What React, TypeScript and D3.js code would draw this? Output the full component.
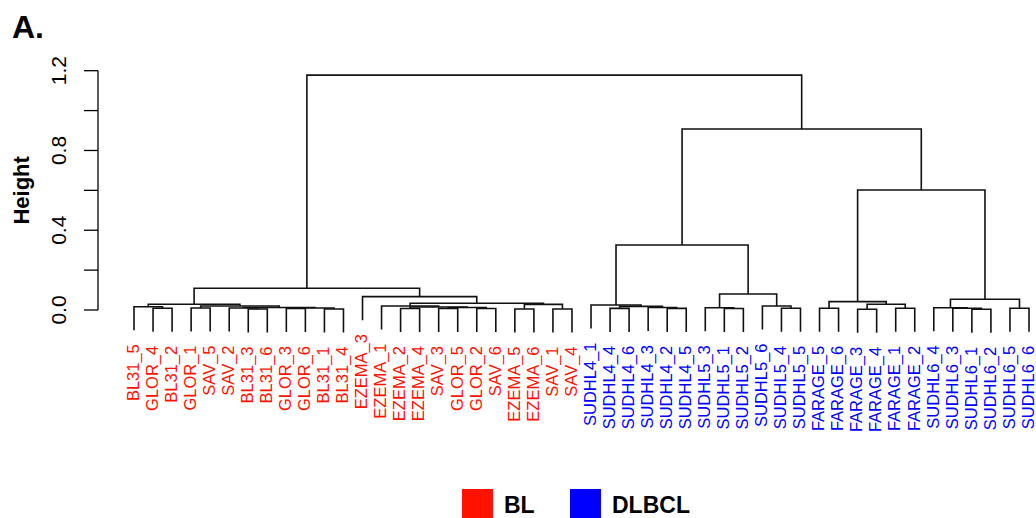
import React from 'react';
import * as d3 from 'd3';

// leaf order as it comes out of hclust
const leafNames = [
  'BL31_5', 'GLOR_4', 'BL31_2', 'GLOR_1', 'SAV_5', 'SAV_2', 'BL31_3', 'BL31_6', 'GLOR_3', 'GLOR_6', 'BL31_1', 'BL31_4',
  'EZEMA_3', 'EZEMA_1', 'EZEMA_2', 'EZEMA_4', 'SAV_3', 'GLOR_5', 'GLOR_2', 'SAV_6', 'EZEMA_5', 'EZEMA_6', 'SAV_1', 'SAV_4',
  'SUDHL4_1', 'SUDHL4_4', 'SUDHL4_6', 'SUDHL4_3', 'SUDHL4_2', 'SUDHL4_5', 'SUDHL5_3', 'SUDHL5_1', 'SUDHL5_2', 'SUDHL5_6',
  'SUDHL5_4', 'SUDHL5_5', 'FARAGE_5', 'FARAGE_6', 'FARAGE_3', 'FARAGE_4', 'FARAGE_1', 'FARAGE_2', 'SUDHL6_4', 'SUDHL6_3',
  'SUDHL6_1', 'SUDHL6_2', 'SUDHL6_5', 'SUDHL6_6',
];

// R style merge matrix: negative = leaf (1-based), positive = earlier step (1-based), then height
const merges: [number, number, number][] = [
  [-2, -3, 0.0085], [-1, 1, 0.0165], [-4, -5, 0.010], [-7, -8, 0.005], [-6, 4, 0.010],
  [-9, -10, 0.0075], [-11, -12, 0.005], [6, 7, 0.010], [5, 8, 0.0125], [3, 9, 0.020],
  [2, 10, 0.029], [-15, -16, 0.0075], [-17, -18, 0.0075], [-19, -20, 0.0075], [13, 14, 0.0125],
  [12, 15, 0.015], [-14, 16, 0.020], [-21, -22, 0.005], [-23, -24, 0.005], [18, 19, 0.028],
  [17, 20, 0.034], [-13, 21, 0.067], [11, 22, 0.109],
  [-26, -27, 0.008], [-29, -30, 0.008], [-28, 25, 0.0125], [24, 26, 0.018], [-25, 27, 0.025],
  [-32, -33, 0.0075], [-31, 29, 0.0115], [-35, -36, 0.0085], [-34, 31, 0.020], [30, 32, 0.080],
  [28, 33, 0.326],
  [-37, -38, 0.0085], [-39, -40, 0.0035], [-41, -42, 0.0085], [36, 37, 0.029], [35, 38, 0.042],
  [-45, -46, 0.0035], [-44, 40, 0.0085], [-43, 41, 0.0115], [-47, -48, 0.0085], [42, 43, 0.054],
  [39, 44, 0.602], [34, 45, 0.908], [23, 46, 1.178],
];

const blLines = ['BL31', 'GLOR', 'SAV', 'EZEMA'];
const yTicks = [0, 0.2, 0.4, 0.6, 0.8, 1.0, 1.2];
const yTickLabels = [0, 0.4, 0.8, 1.2];
const legendItems = [
  { label: 'BL', color: '#ff1200' },
  { label: 'DLBCL', color: '#0000ff' },
];

const FONT = 'Liberation Sans, Arial, sans-serif';

export default function App() {
  const x = d3.scalePoint<string>().domain(leafNames).range([134, 1029]);
  const y = d3.scaleLinear().domain([0, 1.2]).range([310, 70.7]);
  const maxH = d3.max(merges, m => m[2]) as number;
  const hang = 0.1 * maxH;

  // x position of every merge step (midpoint of its two children)
  const stepX: number[] = [];
  const childX = (c: number) => (c < 0 ? (x(leafNames[-c - 1]) as number) : stepX[c - 1]);
  merges.forEach(([a, b]) => stepX.push((childX(a) + childX(b)) / 2));

  const leafBottom: Record<string, number> = {};
  const lines: string[] = [];
  merges.forEach(([a, b, h]) => {
    const yh = y(h);
    const xa = childX(a), xb = childX(b);
    const bottom = (c: number) => {
      if (c < 0) {
        const yb = y(h - hang);
        leafBottom[leafNames[-c - 1]] = yb;
        return yb;
      }
      return y(merges[c - 1][2]);
    };
    lines.push(`M${xa},${bottom(a)}V${yh}H${xb}V${bottom(b)}`);
  });

  const colorOf = (name: string) =>
    blLines.includes(name.split('_')[0]) ? legendItems[0].color : legendItems[1].color;

  return (
    <svg width={1036} height={518} style={{ position: 'absolute', left: 0, top: 0, background: '#fff' }}>
      <text x={12} y={38} fontFamily={FONT} fontWeight="bold" fontSize={32}>A.</text>

      {/* y axis */}
      <g stroke="#000" strokeWidth={1.3}>
        <line x1={98} x2={98} y1={y(0)} y2={y(1.2)} />
        {yTicks.map(t => (
          <line key={t} x1={84} x2={98} y1={y(t)} y2={y(t)} />
        ))}
      </g>
      {yTickLabels.map(t => (
        <text key={t} transform={`translate(66,${y(t)}) rotate(-90)`} textAnchor="middle"
          fontFamily={FONT} fontSize={21}>{t.toFixed(1)}</text>
      ))}
      <text transform={`translate(29,${(y(0) + y(1.2)) / 2}) rotate(-90)`} textAnchor="middle"
        fontFamily={FONT} fontWeight="bold" fontSize={22}>Height</text>

      {/* dendrogram */}
      <g fill="none" stroke="#111" strokeWidth={1.6}>
        {lines.map((d, i) => <path key={i} d={d} />)}
      </g>

      {/* leaf labels */}
      {leafNames.map(name => (
        <text key={name} transform={`translate(${x(name) - 1},${leafBottom[name] + 14}) rotate(-90)`}
          textAnchor="end" dy="0.35em" fontFamily={FONT} fontSize={16.5} fill={colorOf(name)}>{name}</text>
      ))}

      {/* legend */}
      {legendItems.map((item, i) => {
        const lx = i === 0 ? 462 : 570;
        return (
          <g key={item.label}>
            <rect x={lx} y={489} width={31} height={31} fill={item.color} />
            <text x={lx + 42} y={513} fontFamily={FONT} fontWeight="bold" fontSize={23}>{item.label}</text>
          </g>
        );
      })}
    </svg>
  );
}
